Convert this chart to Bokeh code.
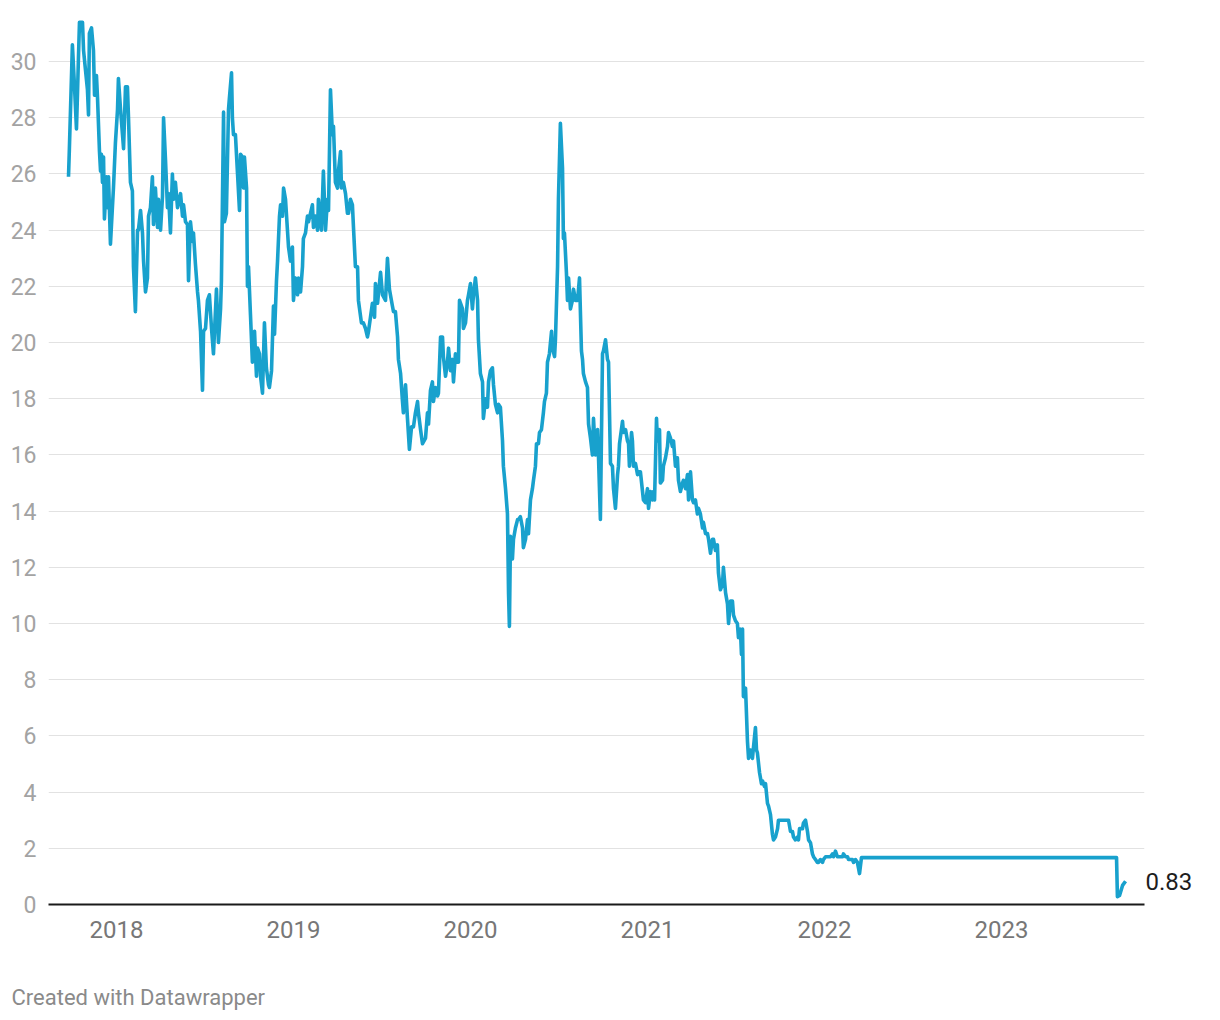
from bokeh.plotting import figure
from bokeh.models import FixedTicker, LinearAxis, Title
from bokeh.embed import file_html
from bokeh.resources import INLINE

# Decimal-year time stamps and price values
years = [
    2017.729, 2017.734, 2017.751, 2017.763, 2017.774, 2017.780, 2017.785, 2017.791, 2017.808, 2017.814,
    2017.825, 2017.836, 2017.842, 2017.847, 2017.859, 2017.870, 2017.876, 2017.887, 2017.893, 2017.904,
    2017.910, 2017.915, 2017.921, 2017.927, 2017.932, 2017.944, 2017.949, 2017.955, 2017.966, 2017.977,
    2017.983, 2017.994, 2018.006, 2018.011, 2018.023, 2018.034, 2018.040, 2018.051, 2018.062, 2018.068,
    2018.079, 2018.090, 2018.096, 2018.107, 2018.119, 2018.124, 2018.136, 2018.147, 2018.153, 2018.164,
    2018.175, 2018.181, 2018.192, 2018.203, 2018.209, 2018.220, 2018.232, 2018.237, 2018.249, 2018.260,
    2018.266, 2018.277, 2018.288, 2018.294, 2018.305, 2018.316, 2018.322, 2018.333, 2018.345, 2018.362,
    2018.373, 2018.379, 2018.390, 2018.401, 2018.407, 2018.418, 2018.429, 2018.435, 2018.446, 2018.458,
    2018.463, 2018.475, 2018.486, 2018.492, 2018.503, 2018.514, 2018.525, 2018.537, 2018.548, 2018.565,
    2018.576, 2018.588, 2018.593, 2018.605, 2018.610, 2018.621, 2018.633, 2018.638, 2018.650, 2018.655,
    2018.661, 2018.672, 2018.684, 2018.695, 2018.701, 2018.712, 2018.718, 2018.723, 2018.735, 2018.740,
    2018.746, 2018.757, 2018.768, 2018.780, 2018.791, 2018.797, 2018.808, 2018.814, 2018.825, 2018.836,
    2018.847, 2018.859, 2018.864, 2018.876, 2018.887, 2018.893, 2018.904, 2018.910, 2018.921, 2018.927,
    2018.938, 2018.944, 2018.955, 2018.966, 2018.972, 2018.983, 2018.994, 2019.000, 2019.011, 2019.023,
    2019.028, 2019.040, 2019.051, 2019.056, 2019.068, 2019.079, 2019.085, 2019.096, 2019.107, 2019.113,
    2019.124, 2019.136, 2019.141, 2019.158, 2019.169, 2019.181, 2019.192, 2019.198, 2019.209, 2019.220,
    2019.226, 2019.237, 2019.249, 2019.254, 2019.266, 2019.271, 2019.282, 2019.294, 2019.305, 2019.311,
    2019.322, 2019.333, 2019.339, 2019.350, 2019.362, 2019.367, 2019.384, 2019.395, 2019.407, 2019.418,
    2019.424, 2019.435, 2019.446, 2019.458, 2019.463, 2019.475, 2019.492, 2019.503, 2019.520, 2019.531,
    2019.542, 2019.559, 2019.565, 2019.576, 2019.588, 2019.593, 2019.605, 2019.616, 2019.621, 2019.633,
    2019.644, 2019.655, 2019.667, 2019.678, 2019.689, 2019.701, 2019.706, 2019.718, 2019.729, 2019.746,
    2019.757, 2019.763, 2019.774, 2019.785, 2019.791, 2019.802, 2019.814, 2019.819, 2019.831, 2019.842,
    2019.847, 2019.859, 2019.870, 2019.876, 2019.887, 2019.898, 2019.904, 2019.915, 2019.927, 2019.932,
    2019.938, 2019.955, 2019.960, 2019.972, 2019.983, 2019.989, 2020.000, 2020.011, 2020.017, 2020.028,
    2020.040, 2020.045, 2020.056, 2020.068, 2020.073, 2020.085, 2020.096, 2020.102, 2020.113, 2020.124,
    2020.130, 2020.141, 2020.153, 2020.158, 2020.169, 2020.181, 2020.186, 2020.198, 2020.209, 2020.215,
    2020.220, 2020.226, 2020.237, 2020.243, 2020.254, 2020.266, 2020.271, 2020.282, 2020.294, 2020.299,
    2020.311, 2020.322, 2020.328, 2020.339, 2020.350, 2020.356, 2020.367, 2020.373, 2020.384, 2020.390,
    2020.401, 2020.412, 2020.418, 2020.429, 2020.435, 2020.446, 2020.458, 2020.463, 2020.475, 2020.480,
    2020.492, 2020.497, 2020.508, 2020.520, 2020.525, 2020.531, 2020.542, 2020.548, 2020.554, 2020.565,
    2020.576, 2020.582, 2020.593, 2020.605, 2020.616, 2020.627, 2020.633, 2020.638, 2020.650, 2020.661,
    2020.667, 2020.678, 2020.689, 2020.695, 2020.706, 2020.718, 2020.723, 2020.734, 2020.746, 2020.751,
    2020.763, 2020.774, 2020.780, 2020.791, 2020.802, 2020.808, 2020.819, 2020.831, 2020.836, 2020.842,
    2020.859, 2020.864, 2020.876, 2020.887, 2020.893, 2020.898, 2020.910, 2020.915, 2020.921, 2020.932,
    2020.944, 2020.949, 2020.960, 2020.972, 2020.977, 2020.989, 2021.000, 2021.006, 2021.017, 2021.028,
    2021.034, 2021.040, 2021.051, 2021.056, 2021.068, 2021.073, 2021.085, 2021.090, 2021.102, 2021.113,
    2021.119, 2021.130, 2021.141, 2021.147, 2021.158, 2021.169, 2021.175, 2021.186, 2021.198, 2021.203,
    2021.215, 2021.226, 2021.232, 2021.243, 2021.254, 2021.260, 2021.271, 2021.282, 2021.288, 2021.299,
    2021.311, 2021.316, 2021.328, 2021.339, 2021.345, 2021.356, 2021.367, 2021.373, 2021.384, 2021.395,
    2021.401, 2021.412, 2021.424, 2021.429, 2021.441, 2021.452, 2021.458, 2021.469, 2021.480, 2021.486,
    2021.497, 2021.508, 2021.514, 2021.525, 2021.531, 2021.537, 2021.542, 2021.554, 2021.565, 2021.571,
    2021.582, 2021.593, 2021.599, 2021.610, 2021.616, 2021.621, 2021.633, 2021.644, 2021.650, 2021.661,
    2021.667, 2021.678, 2021.684, 2021.695, 2021.706, 2021.712, 2021.723, 2021.735, 2021.740, 2021.751,
    2021.768, 2021.791, 2021.797, 2021.808, 2021.819, 2021.825, 2021.836, 2021.847, 2021.853, 2021.859,
    2021.876, 2021.881, 2021.893, 2021.904, 2021.910, 2021.921, 2021.932, 2021.938, 2021.949, 2021.960,
    2021.966, 2021.977, 2021.989, 2021.994, 2022.006, 2022.017, 2022.023, 2022.034, 2022.045, 2022.051,
    2022.062, 2022.073, 2022.079, 2022.090, 2022.102, 2022.107, 2022.119, 2022.130, 2022.136, 2022.147,
    2022.158, 2022.164, 2022.175, 2022.186, 2022.192, 2022.198, 2022.209, 2023.650, 2023.655, 2023.667,
    2023.684, 2023.701,
]

prices = [
    25.9, 26.9, 30.6, 29.1, 27.6, 28.9, 30.1, 31.4, 31.4, 30.4,
    29.7, 29.0, 28.1, 31.0, 31.2, 30.4, 28.8, 29.5, 28.7, 26.8,
    26.1, 26.7, 25.7, 26.6, 24.4, 25.9, 24.8, 25.9, 23.5, 24.8,
    25.5, 27.1, 28.3, 29.4, 28.3, 27.4, 26.9, 29.1, 29.1, 28.0,
    25.7, 25.4, 22.7, 21.1, 24.0, 24.0, 24.7, 23.9, 22.9, 21.8,
    22.3, 24.5, 24.8, 25.9, 24.2, 25.5, 24.1, 25.1, 24.0, 25.2,
    28.0, 26.5, 24.8, 25.3, 23.9, 26.0, 25.1, 25.7, 24.8, 25.3,
    24.5, 24.9, 24.3, 24.2, 22.2, 24.3, 23.6, 23.9, 22.8, 21.8,
    21.5, 20.4, 18.3, 20.4, 20.5, 21.5, 21.7, 20.5, 19.6, 21.9,
    20.0, 21.2, 22.2, 28.2, 24.3, 24.6, 28.3, 28.7, 29.6, 28.0,
    27.4, 27.4, 26.0, 24.7, 26.7, 26.6, 25.5, 26.6, 25.5, 22.0,
    22.7, 21.0, 19.3, 20.4, 18.8, 19.8, 19.6, 18.8, 18.2, 20.7,
    19.1, 18.5, 18.4, 19.0, 21.3, 20.3, 22.2, 22.9, 24.5, 24.9,
    24.5, 25.5, 25.1, 24.0, 23.4, 22.9, 23.4, 21.5, 22.3, 21.7,
    22.3, 21.8, 22.7, 23.7, 23.9, 24.5, 24.3, 24.6, 24.9, 24.1,
    24.5, 24.0, 25.1, 24.0, 26.1, 24.0, 25.1, 24.7, 29.0, 27.4,
    27.7, 25.7, 25.5, 26.1, 26.8, 25.5, 25.7, 25.3, 24.6, 24.6,
    25.1, 24.9, 24.1, 22.7, 22.7, 21.5, 20.7, 20.7, 20.5, 20.2,
    20.4, 20.9, 21.4, 20.9, 22.1, 21.4, 22.5, 21.7, 21.5, 23.0,
    21.9, 21.3, 21.1, 21.1, 20.2, 19.4, 18.9, 17.9, 17.5, 18.5,
    17.3, 16.2, 17.0, 17.0, 17.5, 17.9, 17.5, 16.9, 16.4, 16.6,
    17.5, 17.1, 18.3, 18.6, 17.9, 18.4, 18.1, 18.2, 20.2, 20.2,
    19.5, 18.8, 19.3, 19.8, 19.0, 19.4, 18.6, 19.6, 19.3, 19.3,
    21.5, 21.2, 20.5, 20.7, 21.5, 21.7, 22.1, 21.2, 21.7, 22.3,
    21.5, 20.1, 18.9, 18.6, 17.3, 18.0, 17.7, 18.6, 19.0, 19.1,
    18.5, 17.8, 17.5, 17.8, 17.7, 16.5, 15.6, 14.8, 13.9, 11.1,
    9.9, 13.1, 12.3, 13.0, 13.4, 13.7, 13.7, 13.8, 13.4, 12.7,
    13.0, 13.7, 13.2, 14.4, 14.8, 15.1, 15.6, 16.4, 16.4, 16.8,
    16.9, 17.5, 17.9, 18.2, 19.3, 19.6, 20.4, 19.8, 19.5, 20.1,
    22.7, 25.1, 27.8, 26.2, 23.7, 23.9, 22.5, 21.5, 22.3, 21.2,
    21.5, 21.9, 21.5, 21.5, 22.3, 19.7, 19.4, 18.9, 18.6, 18.4,
    17.1, 16.6, 16.0, 17.3, 16.0, 16.9, 16.0, 13.7, 19.6, 19.7,
    20.1, 19.4, 19.3, 15.7, 15.6, 14.8, 14.1, 15.3, 15.6, 16.4,
    17.2, 16.8, 16.9, 16.5, 16.4, 15.6, 16.8, 16.5, 15.6, 15.7,
    15.3, 15.4, 15.4, 14.7, 14.4, 14.3, 14.8, 14.1, 14.7, 14.4,
    14.7, 14.4, 17.3, 16.5, 16.9, 15.0, 15.1, 15.6, 15.9, 16.3,
    16.8, 16.6, 16.3, 16.5, 15.6, 15.9, 15.1, 14.7, 15.0, 15.1,
    14.8, 15.3, 14.4, 15.4, 14.4, 14.3, 14.4, 13.9, 14.1, 13.9,
    13.4, 13.6, 13.2, 13.2, 13.0, 12.5, 13.0, 13.0, 12.6, 12.8,
    11.8, 11.2, 11.4, 12.0, 11.1, 10.7, 10.0, 10.8, 10.8, 10.3,
    10.1, 10.0, 9.5, 9.8, 8.9, 9.8, 7.4, 7.7, 5.8, 5.2,
    5.5, 5.2, 5.6, 6.3, 5.5, 5.4, 4.7, 4.3, 4.4, 4.2,
    4.3, 3.6, 3.5, 3.2, 2.5, 2.3, 2.4, 2.7, 3.0, 3.0,
    3.0, 3.0, 3.0, 2.6, 2.6, 2.4, 2.3, 2.4, 2.3, 2.7,
    2.7, 2.9, 3.0, 2.6, 2.3, 2.2, 1.8, 1.7, 1.6, 1.5,
    1.5, 1.6, 1.5, 1.6, 1.7, 1.7, 1.7, 1.7, 1.8, 1.7,
    1.9, 1.7, 1.7, 1.7, 1.7, 1.8, 1.7, 1.7, 1.6, 1.6,
    1.6, 1.5, 1.6, 1.5, 1.3, 1.1, 1.67, 1.67, 0.28, 0.32,
    0.68, 0.83,
]

x_tick_years = [2018, 2019, 2020, 2021, 2022, 2023]
x_tick_labels = ["2018", "2019", "2020", "2021", "2022", "2023"]
y_ticks = [0, 2, 4, 6, 8, 10, 12, 14, 16, 18, 20, 22, 24, 26, 28, 30]
end_label = "0.83"
credit = "Created with Datawrapper"

p = figure(
    width=1208, height=1012,
    x_range=(2017.616, 2023.808), y_range=(0, 31.64),
    output_backend="svg", toolbar_location=None,
    min_border_left=48, min_border_right=64, min_border_top=15, min_border_bottom=108,
)
p.background_fill_color = "white"
p.border_fill_color = "white"
p.outline_line_color = None

p.line(years, prices, line_color="#18a1cd", line_width=3.6, line_join="round")

# x axis
p.xaxis.ticker = FixedTicker(ticks=x_tick_years)
p.xaxis.major_label_overrides = {y: l for y, l in zip(x_tick_years, x_tick_labels)}
p.xaxis.major_tick_line_color = None
p.xaxis.major_tick_out = 0
p.xaxis.major_tick_in = 0
p.xaxis.minor_tick_line_color = None
p.xaxis.axis_line_color = "#1a1a1a"
p.xaxis.axis_line_width = 2
p.xaxis.major_label_text_font = "Roboto"
p.xaxis.major_label_text_font_size = "24px"
p.xaxis.major_label_text_color = "#777777"
p.xaxis.major_label_standoff = 16

# y axis
p.yaxis.ticker = FixedTicker(ticks=y_ticks)
p.yaxis.axis_line_color = None
p.yaxis.major_tick_line_color = None
p.yaxis.major_tick_out = 0
p.yaxis.major_tick_in = 0
p.yaxis.minor_tick_line_color = None
p.yaxis.major_label_text_font = "Roboto"
p.yaxis.major_label_text_font_size = "23px"
p.yaxis.major_label_text_color = "#a3a3a3"
p.yaxis.major_label_standoff = 12

p.xgrid.visible = False
p.ygrid.ticker = FixedTicker(ticks=y_ticks)
p.ygrid.grid_line_color = "#e2e2e2"
p.ygrid.grid_line_width = 1

# value label for the last point, as a right-hand axis label
last_axis = LinearAxis(ticker=FixedTicker(ticks=[prices[-1]]),
                       major_label_overrides={prices[-1]: end_label})
last_axis.axis_line_color = None
last_axis.major_tick_line_color = None
last_axis.major_tick_out = 0
last_axis.major_tick_in = 0
last_axis.minor_tick_line_color = None
last_axis.major_label_standoff = 1
last_axis.major_label_text_font = "Roboto"
last_axis.major_label_text_font_size = "24px"
last_axis.major_label_text_color = "#1d1d1d"
p.add_layout(last_axis, "right")

# spacer and credit line below the chart
spacer = Title(text=" ", standoff=29, text_font_size="10px")
p.add_layout(spacer, "below")
credit_title = Title(text=credit, align="left", offset=-37, standoff=0,
                     text_font="Roboto", text_font_size="22px",
                     text_font_style="normal", text_color="#8a8a8a")
p.add_layout(credit_title, "below")

open("out.html", "w").write(file_html(p, INLINE))
